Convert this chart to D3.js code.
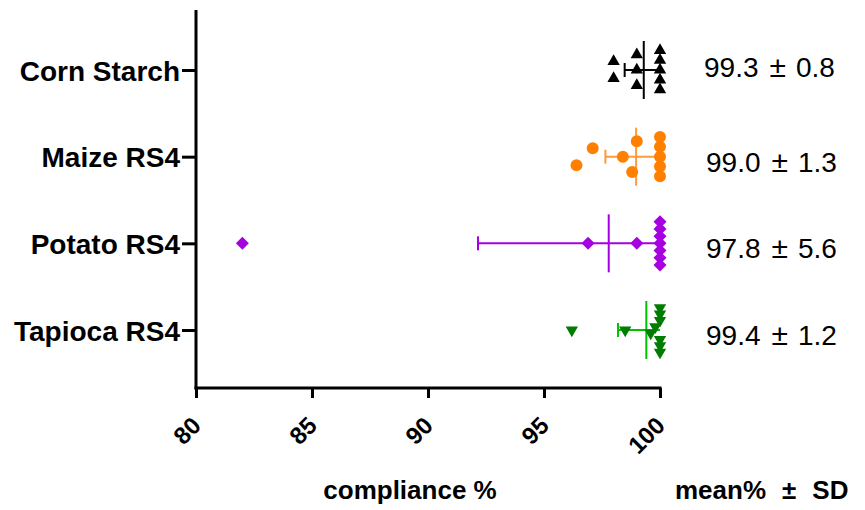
<!DOCTYPE html>
<html>
<head>
<meta charset="utf-8">
<script src="https://cdn.jsdelivr.net/npm/d3@7"></script>
<style>
  html, body { margin: 0; padding: 0; background: #fff; }
  svg { display: block; font-family: Arial, "Liberation Sans", sans-serif; }
</style>
</head>
<body>
<svg id="chart" width="865" height="510"></svg>
<script>
// ---- data ----
const categories = ["Corn Starch", "Maize RS4", "Potato RS4", "Tapioca RS4"];
const cornValues    = [98, 98, 99, 99, 99, 100, 100, 100, 100, 100];
const maizeValues   = [97.1, 96.4, 99.0, 98.4, 98.8, 100, 100, 100, 100, 100];
const potatoValues  = [82.0, 96.9, 99.0, 100, 100, 100, 100, 100, 100, 100];
const tapiocaValues = [96.2, 98.5, 100, 100, 100, 99.8, 99.6, 100, 100, 100];
const xTicks = [80, 85, 90, 95, 100];
const xTitle = "compliance %";
const statTitleParts = ["mean%", "\u00B1", "SD"];

const seriesValues = [cornValues, maizeValues, potatoValues, tapiocaValues];
const markerShapes = ["triangleUp", "circle", "diamond", "triangleDown"];
const markerColors = ["#000000", "#ff8000", "#a600e0", "#007c00"];
const lineColors   = ["#000000", "#ff9a3c", "#a600e0", "#00c400"];

// ---- layout ----
const svg = d3.select("#chart");
const x = d3.scaleLinear().domain([80, 100]).range([196, 660]);
const y = d3.scalePoint().domain(categories).range([70, 330]);
const axisY = 388;

// axes
const xAxisG = svg.append("g").attr("transform", `translate(0,${axisY})`)
  .call(d3.axisBottom(x).tickValues(xTicks).tickSize(10).tickSizeOuter(0).tickFormat(d3.format("d")));
xAxisG.select(".domain").attr("stroke", "#000").attr("stroke-width", 3)
  .attr("d", `M${x(80) - 1.5},0H${x(100) + 1.5}`);
xAxisG.selectAll(".tick line").attr("stroke", "#000").attr("stroke-width", 3);
xAxisG.selectAll(".tick text")
  .attr("font-size", 24).attr("font-weight", "bold").attr("fill", "#000")
  .attr("text-anchor", "end").attr("dy", null).attr("y", 0)
  .attr("transform", "translate(6,39) rotate(-45)");

const yAxisG = svg.append("g").attr("transform", `translate(${x(80)},0)`)
  .call(d3.axisLeft(y).tickSize(14).tickSizeOuter(0));
yAxisG.select(".domain").attr("stroke", "#000").attr("stroke-width", 3)
  .attr("d", `M0,10V${axisY + 1.5}`);
yAxisG.selectAll(".tick line").attr("stroke", "#000").attr("stroke-width", 3);
yAxisG.selectAll(".tick text")
  .attr("font-size", 28).attr("font-weight", "bold").attr("fill", "#000")
  .attr("x", -16).attr("dy", "0.36em");

// swarm-like offsets: cluster close values, stack them vertically
function offsets(vals) {
  const idx = vals.map((v, i) => i).sort((a, b) => vals[a] - vals[b] || a - b);
  const clusters = [];
  let cur = [idx[0]];
  for (let k = 1; k < idx.length; k++) {
    if (vals[idx[k]] - vals[idx[k - 1]] <= 0.75) cur.push(idx[k]);
    else { clusters.push(cur); cur = [idx[k]]; }
  }
  clusters.push(cur);
  const off = new Array(vals.length).fill(0);
  clusters.forEach(c => {
    c.sort((a, b) => a - b);
    const n = c.length;
    const step = Math.min(17, 54 / (n + 0.5));
    c.forEach((i, j) => { off[i] = (j - (n - 1) / 2) * step; });
  });
  return off;
}

function markerPath(shape) {
  if (shape === "circle") return d3.symbol(d3.symbolCircle, 113)();
  if (shape === "triangleUp") return d3.symbol(d3.symbolTriangle, 66)();
  if (shape === "triangleDown") return d3.symbol(d3.symbolTriangle, 66)();
  if (shape === "diamond") return "M0,-6.5L6.5,0L0,6.5L-6.5,0Z";
}

const statDy = [7, 15, 15, 15];
const statX = [704, 706, 706, 706];
const [xmin, xmax] = x.domain();
categories.forEach((cat, ci) => {
  const vals = seriesValues[ci];
  const cy = y(cat);
  const mean = d3.mean(vals);
  const sd = d3.deviation(vals);
  const g = svg.append("g");
  const lc = lineColors[ci];
  const lo = Math.max(xmin, mean - sd), hi = Math.min(xmax, mean + sd);
  // SD bar
  g.append("line").attr("x1", x(lo)).attr("x2", x(hi)).attr("y1", cy).attr("y2", cy)
    .attr("stroke", lc).attr("stroke-width", 2);
  if (mean - sd >= xmin)
    g.append("line").attr("x1", x(mean - sd)).attr("x2", x(mean - sd)).attr("y1", cy - 7).attr("y2", cy + 7)
      .attr("stroke", lc).attr("stroke-width", 2);
  if (mean + sd <= xmax)
    g.append("line").attr("x1", x(mean + sd)).attr("x2", x(mean + sd)).attr("y1", cy - 7).attr("y2", cy + 7)
      .attr("stroke", lc).attr("stroke-width", 2);
  // mean line
  g.append("line").attr("x1", x(mean)).attr("x2", x(mean)).attr("y1", cy - 29).attr("y2", cy + 29)
    .attr("stroke", lc).attr("stroke-width", 2);
  // points
  const off = offsets(vals);
  const shape = markerShapes[ci];
  g.selectAll("path.pt").data(vals).join("path").attr("class", "pt")
    .attr("d", markerPath(shape))
    .attr("transform", (v, i) => `translate(${x(v)},${cy + off[i]})` + (shape === "triangleDown" ? " rotate(180)" : ""))
    .attr("fill", markerColors[ci]);
  // stats label
  const t = svg.append("text").attr("x", statX[ci]).attr("y", cy + statDy[ci])
    .attr("font-size", 28).attr("fill", "#000");
  t.append("tspan").text(d3.format(".1f")(mean));
  t.append("tspan").attr("dx", 11).attr("font-size", 30).text("\u00B1");
  t.append("tspan").attr("dx", 10).text(d3.format(".1f")(sd));
});

// titles
svg.append("text").attr("x", 410).attr("y", 499).attr("text-anchor", "middle")
  .attr("font-size", 26).attr("font-weight", "bold").text(xTitle);
const st = svg.append("text").attr("x", 675).attr("y", 499)
  .attr("font-size", 26).attr("font-weight", "bold");
st.append("tspan").text(statTitleParts[0]);
st.append("tspan").attr("dx", 16).text(statTitleParts[1]);
st.append("tspan").attr("dx", 16).text(statTitleParts[2]);
</script>
</body>
</html>
